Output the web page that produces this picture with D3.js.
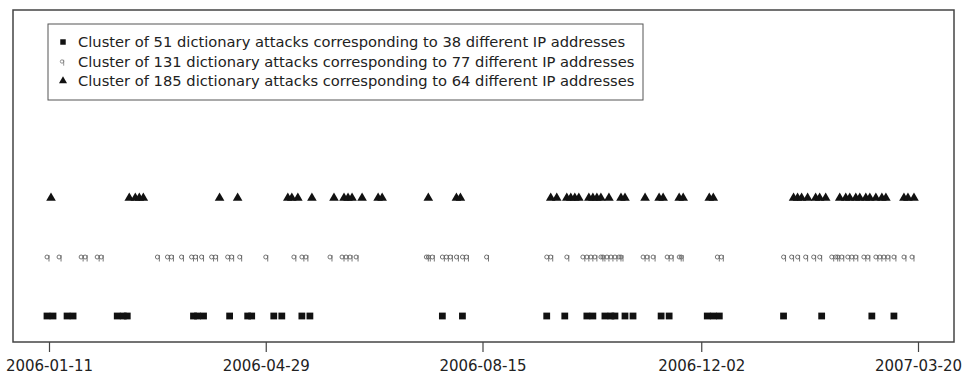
<!DOCTYPE html>
<html>
<head>
<meta charset="utf-8">
<script src="https://cdn.jsdelivr.net/npm/d3@7"></script>
<style>
  html, body { margin: 0; padding: 0; background: #fff; }
  svg { display: block; font-family: 'DejaVu Sans', Verdana, sans-serif; }
</style>
</head>
<body>
<div id="chart"></div>
<script>
// Day offsets from 2006-01-11
const start = '2006-01-11';
const end = '2007-03-20';
const tickDates = ['2006-01-11', '2006-04-29', '2006-08-15', '2006-12-02', '2007-03-20'];

const clusters = ['c51', 'c131', 'c185'];
const legendLabels = [
  'Cluster of 51 dictionary attacks corresponding to 38 different IP addresses',
  'Cluster of 131 dictionary attacks corresponding to 77 different IP addresses',
  'Cluster of 185 dictionary attacks corresponding to 64 different IP addresses'
];

const days51 = [-1, 2, 9, 12, 34, 37, 39, 72, 74, 77, 90, 99, 101, 112, 116, 126, 130,
  196, 206, 248, 257, 268, 271, 277, 280, 282, 287, 291, 305, 309, 328, 331, 334,
  366, 385, 410, 421];

const days131 = [-1, 5, 16, 18, 24, 26, 54, 59, 61, 66, 71, 73, 76, 81, 83, 89, 91, 95,
  108, 122, 126, 128, 140, 146, 148, 150, 153, 188, 189, 191, 196, 198, 200, 203, 206,
  208, 218, 248, 250, 258, 266, 268, 270, 272, 275, 276, 278, 280, 282, 284, 285, 296,
  298, 301, 308, 310, 314, 315, 333, 335, 366, 370, 373, 377, 381, 384, 390, 392, 393,
  395, 398, 400, 402, 406, 408, 412, 414, 416, 418, 421, 426, 430];

const days185 = [1, 40, 43, 45, 47, 85, 94, 119, 121, 124, 131, 142, 147, 149, 151, 156,
  164, 166, 189, 203, 205, 250, 253, 258, 260, 262, 264, 269, 271, 273, 275, 279, 285,
  287, 297, 304, 306, 314, 316, 329, 331, 371, 373, 375, 378, 382, 384, 387, 394, 397,
  399, 402, 404, 407, 409, 412, 415, 417, 426, 428, 431];

const width = 978, height = 379;
const box = { left: 13, right: 954, top: 10, bottom: 342 };

const parse = d3.utcParse('%Y-%m-%d');
const t0 = parse(start);

const x = d3.scaleUtc()
  .domain([t0, parse(end)])
  .range([49, 918]);

const y = d3.scalePoint()
  .domain(clusters)
  .range([316, 198]);

const svg = d3.select('#chart').append('svg')
  .attr('width', width)
  .attr('height', height);

// plot frame
svg.append('rect')
  .attr('x', box.left)
  .attr('y', box.top)
  .attr('width', box.right - box.left)
  .attr('height', box.bottom - box.top)
  .attr('fill', 'none')
  .attr('stroke', '#444')
  .attr('stroke-width', 1.5);

const axis = d3.axisBottom(x)
  .tickValues(tickDates.map(parse))
  .tickFormat(d3.utcFormat('%Y-%m-%d'))
  .tickSize(10)
  .tickSizeOuter(0);

const gx = svg.append('g')
  .attr('transform', `translate(0,${box.bottom})`)
  .call(axis);
gx.select('.domain').remove();
gx.selectAll('.tick line').attr('stroke', '#444').attr('stroke-width', 1.2);
gx.selectAll('.tick text')
  .attr('y', 18)
  .attr('fill', '#222')
  .attr('font-size', '15px')
  .attr('font-family', "'DejaVu Sans', Verdana, sans-serif");

const toDate = d => d3.utcDay.offset(t0, d);

const sq = d3.symbol().type(d3.symbolSquare).size(46);
const tri = d3.symbol().type(d3.symbolTriangle).size(40);

// small "q" shaped marker: open circle with a stem on its right side
const qMark = r => {
  const p = d3.path();
  p.moveTo(r, 0);
  p.arc(0, 0, r, 0, 2 * Math.PI);
  p.moveTo(r, -r);
  p.lineTo(r, r + 2.5);
  return p.toString();
};

svg.append('g').selectAll('path')
  .data(days51)
  .join('path')
  .attr('transform', d => `translate(${x(toDate(d))},${y('c51')})`)
  .attr('d', sq)
  .attr('fill', '#111');

svg.append('g').selectAll('path')
  .data(days131)
  .join('path')
  .attr('transform', d => `translate(${x(toDate(d))},${y('c131')})`)
  .attr('d', qMark(2))
  .attr('fill', 'none')
  .attr('stroke', '#666')
  .attr('stroke-width', 0.9);

svg.append('g').selectAll('path')
  .data(days185)
  .join('path')
  .attr('transform', d => `translate(${x(toDate(d))},${y('c185')})`)
  .attr('d', tri)
  .attr('fill', '#111');

// legend
const legend = svg.append('g');
legend.append('rect')
  .attr('x', 48)
  .attr('y', 24)
  .attr('width', 595)
  .attr('height', 76)
  .attr('fill', '#fff')
  .attr('stroke', '#555')
  .attr('stroke-width', 1);

const rowY = d3.scalePoint().domain(d3.range(3)).range([42, 81]);

legendLabels.forEach((label, i) => {
  const cy = rowY(i);
  if (i === 0) {
    legend.append('path').attr('transform', `translate(63,${cy})`).attr('d', d3.symbol().type(d3.symbolSquare).size(30)).attr('fill', '#111');
  } else if (i === 1) {
    legend.append('path').attr('transform', `translate(62,${cy})`).attr('d', qMark(1.7))
      .attr('fill', 'none').attr('stroke', '#777').attr('stroke-width', 0.8);
  } else {
    legend.append('path').attr('transform', `translate(63,${cy})`).attr('d', d3.symbol().type(d3.symbolTriangle).size(28)).attr('fill', '#111');
  }
  legend.append('text')
    .attr('x', 78)
    .attr('y', cy)
    .attr('dy', '0.36em')
    .attr('font-size', '14.7px')
    .attr('fill', '#222')
    .text(label);
});
</script>
</body>
</html>
